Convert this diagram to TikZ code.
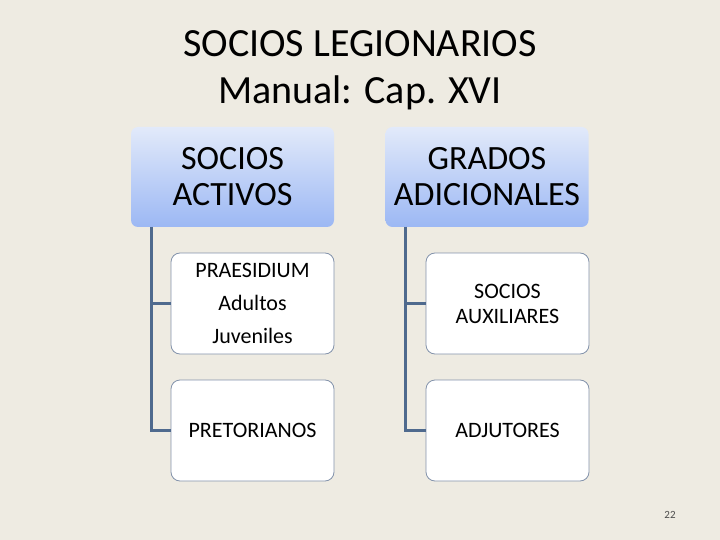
\documentclass[tikz,border=0pt]{standalone}
\usepackage{fontspec}
\setmainfont{Carlito}
\definecolor{bg}{HTML}{EEEBE2}
\definecolor{top}{HTML}{E2EAFA}
\definecolor{bot}{HTML}{9CB8F4}
\definecolor{conn}{HTML}{4F6A8E}
\definecolor{bord}{HTML}{8393AB}
\begin{document}
\begin{tikzpicture}[x=1pt,y=-1pt,
  head/.style={rounded corners=7pt,top color=top,bottom color=bot,draw=none,minimum width=203pt,minimum height=100pt,align=center,font=\fontsize{34}{36}\selectfont,inner sep=0pt},
  child/.style={rounded corners=9pt,fill=white,draw=bord,line width=0.8pt,minimum width=163pt,minimum height=101pt,align=center,font=\fontsize{22}{25}\selectfont,inner sep=0pt},
  conn/.style={draw=conn,line width=3pt}]
\fill[bg] (0,0) rectangle (720,540);
\useasboundingbox (0,0) rectangle (720,540);
\node[font=\fontsize{40}{47}\selectfont,align=center] (title) at (360,70) {SOCIOS LEGIONARIOS\\Manual: Cap. XVI};
\node[head] (h1) at (232.5,177) {SOCIOS\\ACTIVOS};
\node[head] (h2) at (487,177) {GRADOS\\ADICIONALES};
\node[child,font=\fontsize{22}{33}\selectfont] (c1) at (252.5,303.5) {PRAESIDIUM\\Adultos\\Juveniles};
\node[child] (c2) at (252.5,430.5) {PRETORIANOS};
\node[child] (c3) at (507.5,303.5) {SOCIOS\\AUXILIARES};
\node[child] (c4) at (507.5,430.5) {ADJUTORES};
\coordinate (a) at (151,227);
\coordinate (b) at (405,227);
\draw[conn] (a) |- (c1.west);
\draw[conn] (a) |- (c2.west);
\draw[conn] (b) |- (c3.west);
\draw[conn] (b) |- (c4.west);
\node[font=\fontsize{11}{12}\selectfont,text=black!70] (pg) at (670,515) {22};
\end{tikzpicture}
\end{document}
